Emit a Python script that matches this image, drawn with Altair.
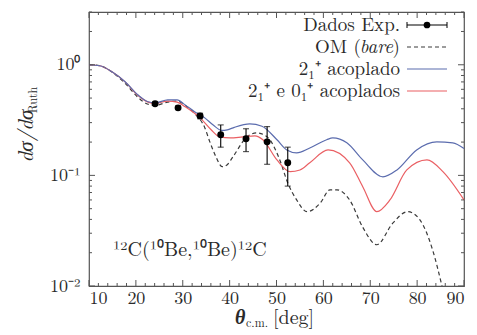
import altair as alt
import pandas as pd

# Angular distributions, 12C(10Be,10Be)12C elastic scattering
theta_exp = [24.1, 29.0, 33.7, 38.1, 43.5, 48.0, 52.4]
sigma_exp = [0.444, 0.408, 0.345, 0.233, 0.214, 0.201, 0.130]
err_exp = [0.015, 0.015, 0.02, 0.053, 0.05, 0.075, 0.05]

theta_om = [10, 12.3, 14.9, 17.7, 20.4, 22.6, 24.1, 26.8, 28.8, 30.5, 32.6, 34.7,
            35.8, 37.0, 38.4, 39.5, 40.7, 43.7, 45.8, 48.0, 50.7, 52.4, 54.3, 56.5,
            59.3, 61.4, 62.9, 65.6, 68.4, 71.4, 74.8, 78.0, 80.6, 83.3, 85.3, 86.5]
sigma_om = [1.0, 0.98, 0.86, 0.68, 0.51, 0.44, 0.43, 0.46, 0.47, 0.43, 0.36, 0.27,
            0.20, 0.15, 0.12, 0.125, 0.147, 0.223, 0.242, 0.223, 0.138, 0.0855, 0.060, 0.047,
            0.056, 0.074, 0.074, 0.060, 0.034, 0.0236, 0.037, 0.047, 0.0396, 0.0212, 0.01, 0.006]

theta_2p = [10, 12.3, 14.9, 17.7, 20.4, 22.6, 24.1, 26.8, 28.8, 30.5, 32.6, 34.7,
            36.5, 38.3, 39.5, 41.0, 44.3, 46.9, 50.1, 52.2, 54.3, 57.1, 60.7, 62.0,
            65.0, 68.4, 72.7, 75.7, 79.9, 84.2, 87.6, 90]
sigma_2p = [1.0, 0.98, 0.864, 0.702, 0.535, 0.463, 0.453, 0.482, 0.482, 0.434, 0.375, 0.331,
            0.285, 0.255, 0.258, 0.272, 0.292, 0.278, 0.210, 0.170, 0.160, 0.177, 0.210, 0.218,
            0.197, 0.138, 0.097, 0.112, 0.170, 0.201, 0.197, 0.175]

theta_20p = [10, 12.3, 14.9, 17.7, 20.4, 22.6, 24.1, 26.8, 28.8, 30.5, 33.7, 36.0,
             37.9, 40.1, 42.8, 45.4, 47.1, 50.1, 52.9, 55.0, 57.1, 61.0, 65.6, 68.4,
             71.4, 74.2, 77.8, 82.1, 85.5, 90]
sigma_20p = [1.0, 0.98, 0.864, 0.70, 0.53, 0.46, 0.448, 0.47, 0.46, 0.417, 0.331, 0.26,
             0.223, 0.218, 0.223, 0.228, 0.210, 0.138, 0.108, 0.112, 0.130, 0.170, 0.130, 0.079,
             0.047, 0.060, 0.112, 0.138, 0.108, 0.060]

x_major = [10, 20, 30, 40, 50, 60, 70, 80, 90]
x_minor = [v for v in range(12, 90, 2) if v % 10 != 0]
y_major = [0.01, 0.1, 1.0]
y_minor = [m * d for d in (0.01, 0.1, 1.0) for m in range(2, 10) if m * d <= 3]

W, H = 375, 274
FONT = "Latin Modern Roman"
TXT = "#2a2a2a"
BLUE = "#5b6cae"
RED = "#ea5f63"

xs = alt.Scale(domain=[10, 90], nice=False, zero=False)
ys = alt.Scale(type="log", domain=[0.01, 3], nice=False)

exp = pd.DataFrame({"t": theta_exp, "s": sigma_exp, "e": err_exp})
om = pd.DataFrame({"t": theta_om, "s": sigma_om})
c2 = pd.DataFrame({"t": theta_2p, "s": sigma_2p})
c20 = pd.DataFrame({"t": theta_20p, "s": sigma_20p})

X = alt.X("t:Q", scale=xs, title=None,
          axis=alt.Axis(values=x_major, ticks=False, domain=False, grid=False,
                        labelFont=FONT, labelFontSize=18, labelColor=TXT, labelPadding=3))
Y = alt.Y("s:Q", scale=ys, title=None,
          axis=alt.Axis(values=y_major, ticks=False, domain=False, grid=False,
                        labelFont=FONT, labelFontSize=18, labelColor=TXT, labelPadding=9,
                        labelExpr="datum.value >= 1 ? '10⁰' : datum.value >= 0.1 ? '10⁻¹' : '10⁻²'"))

line_om = alt.Chart(om).mark_line(color="#3a3a3a", strokeWidth=1.2, strokeDash=[4, 3],
                                  clip=True, interpolate="monotone").encode(x=X, y=Y)
line_2p = alt.Chart(c2).mark_line(color=BLUE, strokeWidth=1.2,
                                  interpolate="monotone").encode(x="t:Q", y="s:Q")
line_20p = alt.Chart(c20).mark_line(color=RED, strokeWidth=1.2,
                                    interpolate="monotone").encode(x="t:Q", y="s:Q")

base_exp = alt.Chart(exp).transform_calculate(lo="datum.s - datum.e", hi="datum.s + datum.e")
bars = base_exp.mark_rule(color="black", strokeWidth=1.1).encode(x="t:Q", y="lo:Q", y2="hi:Q")
cap_lo = base_exp.mark_tick(color="black", orient="horizontal", size=6, thickness=1.1).encode(x="t:Q", y="lo:Q")
cap_hi = base_exp.mark_tick(color="black", orient="horizontal", size=6, thickness=1.1).encode(x="t:Q", y="hi:Q")
pts = base_exp.mark_circle(color="black", size=48, opacity=1).encode(x="t:Q", y="s:Q")

# inward ticks on all four sides of the frame
TC = "#555555"
def xticks(vals, length):
    d = pd.DataFrame({"t": vals})
    b = alt.Chart(d).mark_rule(color=TC, strokeWidth=1).encode(x="t:Q", y=alt.value(H), y2=alt.value(H - length))
    t = alt.Chart(d).mark_rule(color=TC, strokeWidth=1).encode(x="t:Q", y=alt.value(0), y2=alt.value(length))
    return b + t

def yticks(vals, length):
    d = pd.DataFrame({"s": vals})
    l = alt.Chart(d).mark_rule(color=TC, strokeWidth=1).encode(y="s:Q", x=alt.value(0), x2=alt.value(length))
    r = alt.Chart(d).mark_rule(color=TC, strokeWidth=1).encode(y="s:Q", x=alt.value(W), x2=alt.value(W - length))
    return l + r

ticks = xticks(x_major, 6) + xticks(x_minor, 3) + yticks(y_major, 6) + yticks(y_minor, 3)

def label(text, x, y, size=19, align="right", style="normal", weight="normal", angle=0, color=TXT):
    kw = dict(text=text, align=align, baseline="middle", font=FONT, fontSize=size,
              fontStyle=style, fontWeight=weight, color=color)
    if angle:
        kw["angle"] = angle
    return alt.Chart(pd.DataFrame({"k": [0]})).mark_text(**kw).encode(x=alt.value(x), y=alt.value(y))

def seg(x1, x2, y, color, dash=None, width=1.2):
    kw = dict(color=color, strokeWidth=width)
    if dash:
        kw["strokeDash"] = dash
    return alt.Chart(pd.DataFrame({"k": [0]})).mark_rule(**kw).encode(
        x=alt.value(x1), x2=alt.value(x2), y=alt.value(y))

# legend (top right, inside the frame)
TR = 311
rows = [13, 35, 57, 79]
legend = (
    label("Dados Exp.", TR, rows[0])
    + seg(318, 358, rows[0], "black", width=1.1)
    + alt.Chart(pd.DataFrame({"k": [0]})).mark_rule(color="black").encode(
        x=alt.value(318), y=alt.value(rows[0] - 3), y2=alt.value(rows[0] + 3))
    + alt.Chart(pd.DataFrame({"k": [0]})).mark_rule(color="black").encode(
        x=alt.value(358), y=alt.value(rows[0] - 3), y2=alt.value(rows[0] + 3))
    + alt.Chart(pd.DataFrame({"k": [0]})).mark_circle(color="black", size=45, opacity=1).encode(
        x=alt.value(338), y=alt.value(rows[0]))
    + label(")", TR, rows[1])
    + label("bare", TR - 7, rows[1], style="italic")
    + label("OM (", TR - 39, rows[1])
    + seg(318, 358, rows[1], "#3a3a3a", dash=[4, 3], width=1.1)
    + label("2₁⁺ acoplado", TR, rows[2])
    + seg(318, 358, rows[2], BLUE)
    + label("2₁⁺ e 0₁⁺ acoplados", TR, rows[3])
    + seg(318, 358, rows[3], RED)
)

reaction = label("¹²C(¹⁰Be,¹⁰Be)¹²C", 24, 238, size=20, align="left")

# axis titles
ytitle = (label("dσ/dσ", -62, 124, size=21, align="center", style="italic", angle=270)
          + label("Ruth", -56, 88, size=12, align="center", angle=270))
xtitle = (label("θ", 146, 306, size=20, align="left", style="italic", weight="bold")
          + label("c.m.", 157, 311, size=12, align="left")
          + label("[deg]", 184, 306, size=20, align="left"))

chart = alt.layer(
    line_om, line_20p, line_2p, bars, cap_lo, cap_hi, pts, ticks, legend, reaction, ytitle, xtitle
).properties(
    width=W, height=H,
    autosize=alt.AutoSizeParams(type="none"),
    padding={"left": 89, "top": 12, "right": 13, "bottom": 49},
    background="white",
).configure_view(stroke="#555555", strokeWidth=1.2)

chart.save("out.html", embed_options={"renderer": "svg", "actions": False})
